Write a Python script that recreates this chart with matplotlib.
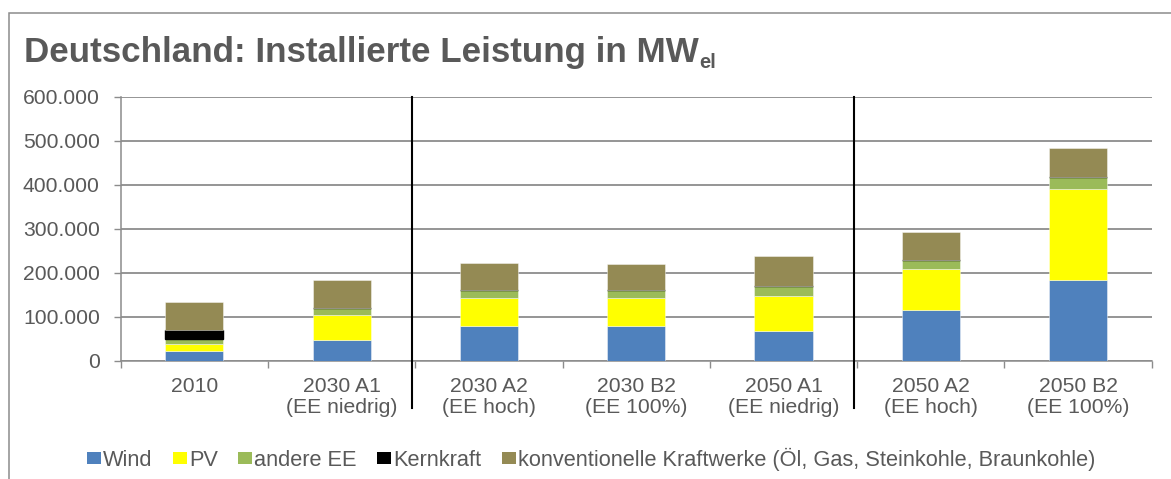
import matplotlib
matplotlib.use("Agg")
import matplotlib.pyplot as plt
import matplotlib.transforms as mtransforms
from matplotlib.patches import Rectangle
from matplotlib.ticker import FuncFormatter, FixedLocator
import numpy as np

plt.rcParams['font.family'] = ['Liberation Sans', 'DejaVu Sans']

categories = ["2010", "2030 A1\n(EE niedrig)", "2030 A2\n(EE hoch)", "2030 B2\n(EE 100%)",
              "2050 A1\n(EE niedrig)", "2050 A2\n(EE hoch)", "2050 B2\n(EE 100%)"]
series_names = ["Wind", "PV", "andere EE", "Kernkraft",
                "konventionelle Kraftwerke (Öl, Gas, Steinkohle, Braunkohle)"]
wind = [23500, 47000, 79500, 79500, 68000, 116000, 184000]
pv = [15000, 57000, 63500, 63500, 80500, 92000, 207500]
andere_ee = [12000, 16000, 18000, 18000, 22000, 21500, 26500]
kernkraft = [20500, 0, 0, 0, 0, 0, 0]
konventionell = [63000, 65000, 62000, 59000, 68000, 62500, 65000]
yticks = [0, 100000, 200000, 300000, 400000, 500000, 600000]

colors = ["#4F81BD", "#FFFF00", "#9BBB59", "#000000", "#948A54"]
text_col = "#595959"
grid_col = "#8C8C8C"

W, H = 1171, 479
fig = plt.figure(figsize=(W / 100, H / 100), dpi=100)

# outer frame
fig.patches.append(Rectangle((8.7 / W, -0.1), 1.2, 1.1 - 13.3 / H,
                             transform=fig.transFigure, fill=False,
                             edgecolor=grid_col, linewidth=1.1))

ax = fig.add_axes([120.7 / W, 1 - 361 / H, (1151.7 - 120.7) / W, (361 - 96.7) / H])

x = np.arange(len(categories))
bw = 0.394
series = [wind, pv, andere_ee, kernkraft, konventionell]
bottom = np.zeros(len(categories))
handles = []
for vals, name, c in zip(series, series_names, colors):
    vals = np.array(vals, dtype=float)
    if name == "Kernkraft":
        bars = ax.bar(x, vals, bw, bottom=bottom, color=c, edgecolor="black",
                      linewidth=1.0, zorder=3, label=name)
    else:
        bars = ax.bar(x, vals, bw, bottom=bottom, color=c, edgecolor=(1, 1, 1, 0.5),
                      linewidth=0.6, zorder=3, label=name)
    handles.append(bars)
    bottom += vals

ax.set_xlim(-0.5, len(categories) - 0.5)
ax.set_ylim(0, 600000)
ax.yaxis.set_major_locator(FixedLocator(yticks))
ax.yaxis.set_major_formatter(FuncFormatter(lambda v, p: f"{int(v):,}".replace(",", ".")))
ax.set_xticks(x)
ax.set_xticklabels(categories, fontsize=15.2, color=text_col, linespacing=1.15)
ax.set_xticks(np.arange(-0.5, len(categories), 1.0), minor=True)
ax.tick_params(axis="x", which="major", length=0, pad=11.5)
ax.tick_params(axis="x", which="minor", length=5, width=1.0, color=grid_col, direction="out")
ax.tick_params(axis="y", length=5, width=1.0, color=grid_col, labelsize=15.2,
               labelcolor=text_col, pad=10)

for s in ["top", "right"]:
    ax.spines[s].set_visible(False)
for s in ["left", "bottom"]:
    ax.spines[s].set_color(grid_col)
    ax.spines[s].set_linewidth(1.1)
ax.grid(axis="y", color=grid_col, linewidth=1.3, zorder=0)
ax.set_axisbelow(True)

# separator lines
trans = mtransforms.blended_transform_factory(ax.transData, ax.transAxes)
for xs in [1.48, 4.48]:
    ax.plot([xs, xs], [1.0, -(408 - 361) / (361 - 96.7)], color="black", linewidth=1.5,
            transform=trans, clip_on=False, zorder=4)

# title
t = fig.text(24 / W, 1 - 61.7 / H, "Deutschland: Installierte Leistung in MW",
             fontsize=25.2, fontweight="bold", color=text_col, va="baseline", ha="left")
fig.canvas.draw()
bb = t.get_window_extent(fig.canvas.get_renderer())
fig.text(bb.x1 / W, 1 - 68 / H, "el", fontsize=14.5, fontweight="bold",
         color=text_col, va="baseline", ha="left")

leg = fig.legend(handles=handles, labels=series_names, loc="center left",
                 bbox_to_anchor=(86.7 / W, 1 - 459 / H), ncol=5, frameon=False,
                 fontsize=15.7, handlelength=0.64, handleheight=0.5, handletextpad=0.09,
                 columnspacing=0.95, borderpad=0, borderaxespad=0, labelcolor=text_col)
for h in leg.legend_handles:
    h.set_edgecolor("none")

fig.savefig("out.png", dpi=100)
